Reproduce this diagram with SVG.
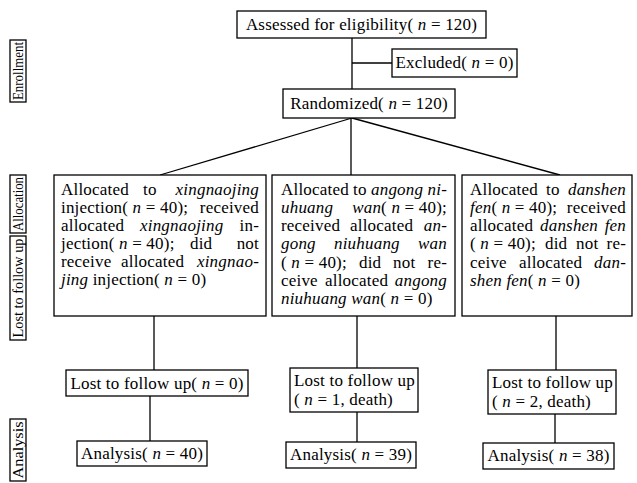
<svg xmlns="http://www.w3.org/2000/svg" width="637" height="483" viewBox="0 0 637 483">
<style>
  rect { fill: #fff; stroke: #000; stroke-width: 1.3; }
  text { font-family: "Liberation Serif", "DejaVu Serif", "Times New Roman", serif; font-size: 17px; letter-spacing: 0.2px; fill: #000; }
  .i { font-style: italic; }
  .e { text-anchor: end; }
  .m { text-anchor: middle; }
  .side { font-size: 14px; letter-spacing: 0; text-anchor: middle; }
  #connectors line { stroke: #000; stroke-width: 1.3; fill: none; }
</style>
<rect x="0" y="0" width="637" height="483" style="stroke:none;fill:#fff"/>

<g id="connectors">
  <line x1="352" y1="38" x2="352" y2="89"/>
  <line x1="352" y1="63" x2="392" y2="63"/>
  <line x1="352" y1="118" x2="160" y2="175"/>
  <line x1="351" y1="118" x2="351" y2="175"/>
  <line x1="352" y1="118" x2="560" y2="175"/>
  <line x1="154" y1="316" x2="154" y2="370"/>
  <line x1="150" y1="396" x2="150" y2="441"/>
  <line x1="357" y1="316" x2="357" y2="368"/>
  <line x1="357" y1="412" x2="357" y2="442"/>
  <line x1="556" y1="316" x2="556" y2="370"/>
  <line x1="555" y1="414" x2="555" y2="443"/>
</g>

<g id="label-enrollment">
  <rect x="10" y="40" width="16" height="62"/>
  <text class="side" transform="translate(22.5,71) rotate(-90)" textLength="58" lengthAdjust="spacingAndGlyphs">Enrollment</text>
</g>
<g id="label-allocation">
  <rect x="10" y="175" width="16" height="58"/>
  <text class="side" transform="translate(22.5,204) rotate(-90)" textLength="54" lengthAdjust="spacingAndGlyphs">Allocation</text>
</g>
<g id="label-lost">
  <rect x="10" y="236" width="16" height="104"/>
  <text class="side" transform="translate(22.5,288) rotate(-90)" textLength="99" lengthAdjust="spacingAndGlyphs">Lost to follow up</text>
</g>
<g id="label-analysis">
  <rect x="10" y="419" width="16" height="62"/>
  <text class="side" transform="translate(22.5,450) rotate(-90)" textLength="57" lengthAdjust="spacingAndGlyphs">Analysis</text>
</g>

<g id="assessed">
  <rect x="237" y="11" width="249" height="27"/>
  <text class="m" x="361.5" y="30">Assessed for eligibility( <tspan class="i">n</tspan> = 120)</text>
</g>
<g id="excluded">
  <rect x="392" y="49" width="125" height="28"/>
  <text class="m" x="454.5" y="68">Excluded( <tspan class="i">n</tspan> = 0)</text>
</g>
<g id="randomized">
  <rect x="283" y="89" width="172" height="29"/>
  <text class="m" x="369" y="109">Randomized( <tspan class="i">n</tspan> = 120)</text>
</g>

<g id="alloc-xingnaojing">
  <rect x="54" y="175" width="212" height="141"/>
  <text x="61" y="195">Allocated</text>
  <text x="143" y="195">to</text>
  <text class="i e" x="259" y="195">xingnaojing</text>
  <text x="61" y="213">injection( <tspan class="i">n</tspan> = 40);</text>
  <text class="e" x="259" y="213">received</text>
  <text x="61" y="231">allocated</text>
  <text class="i" x="140" y="231">xingnaojing</text>
  <text class="e" x="259" y="231">in-</text>
  <text x="61" y="249">jection( <tspan class="i">n</tspan> = 40);</text>
  <text x="190" y="249">did</text>
  <text class="e" x="259" y="249">not</text>
  <text x="61" y="267">receive</text>
  <text x="121" y="267">allocated</text>
  <text class="e" x="259" y="267"><tspan class="i">xingnao</tspan>-</text>
  <text x="61" y="285"><tspan class="i">jing</tspan> injection( <tspan class="i">n</tspan> = 0)</text>
</g>

<g id="alloc-angong">
  <rect x="272" y="175" width="183" height="141"/>
  <text x="281" y="195">Allocated</text>
  <text x="353" y="195">to</text>
  <text class="i" x="371" y="195">angong</text>
  <text class="e" x="447" y="195"><tspan class="i">ni</tspan>-</text>
  <text class="i" x="281" y="213">uhuang</text>
  <text class="e" x="447" y="213"><tspan class="i">wan</tspan>( <tspan class="i">n</tspan> = 40);</text>
  <text x="281" y="231">received</text>
  <text x="350" y="231">allocated</text>
  <text class="e" x="447" y="231"><tspan class="i">an</tspan>-</text>
  <text class="i" x="281" y="249">gong</text>
  <text class="i" x="334" y="249">niuhuang</text>
  <text class="i e" x="447" y="249">wan</text>
  <text x="281" y="268">( <tspan class="i">n</tspan> = 40);</text>
  <text x="359" y="268">did</text>
  <text x="393" y="268">not</text>
  <text class="e" x="447" y="268">re-</text>
  <text x="281" y="286">ceive</text>
  <text x="325" y="286">allocated</text>
  <text class="i e" x="447" y="286">angong</text>
  <text x="281" y="304"><tspan class="i">niuhuang</tspan> <tspan class="i">wan</tspan>( <tspan class="i">n</tspan> = 0)</text>
</g>

<g id="alloc-danshen">
  <rect x="462" y="175" width="170" height="141"/>
  <text x="470" y="195">Allocated</text>
  <text x="546" y="195">to</text>
  <text class="i e" x="626" y="195">danshen</text>
  <text x="470" y="213"><tspan class="i">fen</tspan>( <tspan class="i">n</tspan> = 40);</text>
  <text class="e" x="626" y="213">received</text>
  <text x="470" y="231">allocated</text>
  <text class="i" x="540" y="231">danshen</text>
  <text class="i e" x="626" y="231">fen</text>
  <text x="470" y="249">( <tspan class="i">n</tspan> = 40);</text>
  <text x="545" y="249">did</text>
  <text x="576" y="249">not</text>
  <text class="e" x="626" y="249">re-</text>
  <text x="470" y="268">ceive</text>
  <text x="519" y="268">allocated</text>
  <text class="e" x="626" y="268"><tspan class="i">dan</tspan>-</text>
  <text x="470" y="286"><tspan class="i">shen fen</tspan>( <tspan class="i">n</tspan> = 0)</text>
</g>

<g id="lost-1">
  <rect x="66" y="370" width="182" height="26"/>
  <text class="m" x="157" y="389">Lost to follow up( <tspan class="i">n</tspan> = 0)</text>
</g>
<g id="lost-2">
  <rect x="290" y="368" width="128" height="44"/>
  <text x="294" y="386">Lost to follow up</text>
  <text x="294" y="405">( <tspan class="i">n</tspan> = 1, death)</text>
</g>
<g id="lost-3">
  <rect x="488" y="370" width="128" height="44"/>
  <text x="492" y="388">Lost to follow up</text>
  <text x="492" y="407">( <tspan class="i">n</tspan> = 2, death)</text>
</g>

<g id="analysis-1">
  <rect x="77" y="441" width="130" height="25"/>
  <text class="m" x="142" y="459">Analysis( <tspan class="i">n</tspan> = 40)</text>
</g>
<g id="analysis-2">
  <rect x="286" y="442" width="130" height="26"/>
  <text class="m" x="351" y="460">Analysis( <tspan class="i">n</tspan> = 39)</text>
</g>
<g id="analysis-3">
  <rect x="483" y="443" width="131" height="26"/>
  <text class="m" x="548.5" y="461">Analysis( <tspan class="i">n</tspan> = 38)</text>
</g>
</svg>
